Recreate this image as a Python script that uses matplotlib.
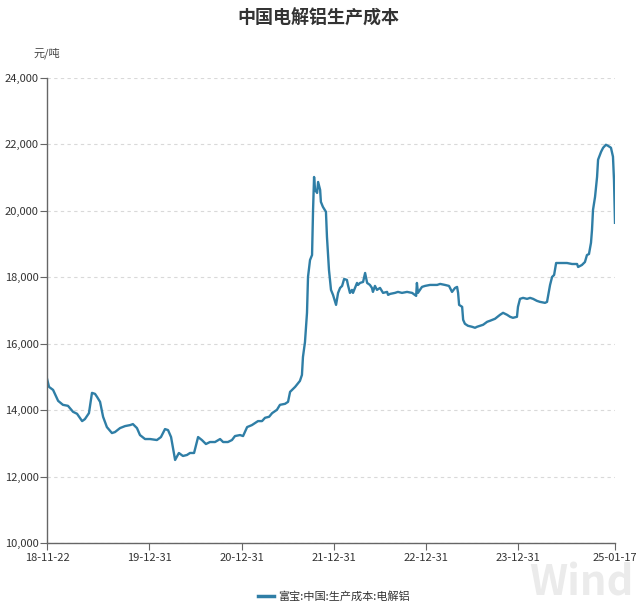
import matplotlib
matplotlib.use("Agg")
import matplotlib.pyplot as plt
import pandas as pd

plt.rcParams['font.family'] = ['Noto Sans CJK SC', 'DejaVu Sans']

title = "中国电解铝生产成本"
unit = "元/吨"
series_name = "富宝:中国:生产成本:电解铝"

dates = [
    "2018-11-22", "2018-11-30", "2018-12-16", "2019-01-05", "2019-01-24", "2019-02-13",
    "2019-03-05", "2019-03-21", "2019-04-10", "2019-04-21", "2019-05-07", "2019-05-19",
    "2019-05-31", "2019-06-08", "2019-06-20", "2019-07-02", "2019-07-17", "2019-08-06",
    "2019-08-18", "2019-09-07", "2019-09-27", "2019-10-17", "2019-10-28", "2019-11-13",
    "2019-11-25", "2019-12-15", "2020-01-04", "2020-01-31", "2020-02-16", "2020-03-03",
    "2020-03-15", "2020-03-27", "2020-04-12", "2020-04-27", "2020-05-13", "2020-05-29",
    "2020-06-10", "2020-06-26", "2020-07-12", "2020-07-27", "2020-08-12", "2020-08-28",
    "2020-09-17", "2020-10-07", "2020-10-19", "2020-11-07", "2020-11-23", "2020-12-05",
    "2020-12-25", "2021-01-06", "2021-01-22", "2021-02-10", "2021-02-22", "2021-03-06",
    "2021-03-22", "2021-04-03", "2021-04-19", "2021-05-01", "2021-05-20", "2021-06-01",
    "2021-06-21", "2021-07-03", "2021-07-11", "2021-07-31", "2021-08-19", "2021-08-27",
    "2021-08-31", "2021-09-08", "2021-09-16", "2021-09-20", "2021-09-28", "2021-10-06",
    "2021-10-10", "2021-10-14", "2021-10-18", "2021-10-26", "2021-10-30", "2021-11-07",
    "2021-11-10", "2021-11-18", "2021-11-30", "2021-12-04", "2021-12-12", "2021-12-20",
    "2021-12-28", "2022-01-09", "2022-01-17", "2022-01-25", "2022-02-02", "2022-02-10",
    "2022-02-21", "2022-02-25", "2022-03-05", "2022-03-13", "2022-03-17", "2022-04-02",
    "2022-04-06", "2022-04-14", "2022-04-26", "2022-05-04", "2022-05-12", "2022-05-23",
    "2022-05-31", "2022-06-04", "2022-06-12", "2022-06-20", "2022-07-02", "2022-07-14",
    "2022-07-30", "2022-08-03", "2022-08-11", "2022-08-30", "2022-09-11", "2022-09-27",
    "2022-10-17", "2022-11-06", "2022-11-22", "2022-11-25", "2022-11-29", "2022-12-15",
    "2022-12-27", "2023-01-16", "2023-02-13", "2023-02-25", "2023-03-16", "2023-04-01",
    "2023-04-13", "2023-04-25", "2023-05-03", "2023-05-07", "2023-05-11", "2023-05-23",
    "2023-05-27", "2023-06-03", "2023-06-15", "2023-07-01", "2023-07-13", "2023-07-21",
    "2023-08-02", "2023-08-14", "2023-08-30", "2023-09-10", "2023-09-30", "2023-10-20",
    "2023-11-01", "2023-11-17", "2023-11-29", "2023-12-10", "2023-12-26", "2023-12-30",
    "2024-01-07", "2024-01-19", "2024-02-04", "2024-02-16", "2024-02-28", "2024-03-14",
    "2024-03-26", "2024-04-15", "2024-04-23", "2024-05-05", "2024-05-13", "2024-05-21",
    "2024-05-29", "2024-06-13", "2024-07-11", "2024-07-31", "2024-08-20", "2024-08-24",
    "2024-09-08", "2024-09-20", "2024-09-28", "2024-10-06", "2024-10-14", "2024-10-18",
    "2024-10-22", "2024-10-30", "2024-11-07", "2024-11-11", "2024-11-23", "2024-12-01",
    "2024-12-12", "2024-12-20", "2025-01-01", "2025-01-09", "2025-01-13", "2025-01-17",
]

values = [
    14950, 14700, 14610, 14280, 14160, 14130,
    13950, 13890, 13670, 13730, 13910, 14520,
    14490, 14400, 14250, 13800, 13490, 13310,
    13340, 13460, 13520, 13550, 13580, 13460,
    13250, 13130, 13130, 13100, 13190, 13430,
    13400, 13190, 12500, 12710, 12620, 12650,
    12710, 12710, 13190, 13100, 12980, 13040,
    13040, 13130, 13040, 13040, 13100, 13220,
    13250, 13220, 13490, 13550, 13610, 13670,
    13670, 13770, 13800, 13910, 14010, 14160,
    14190, 14250, 14550, 14700, 14880, 15060,
    15600, 16050, 16930, 18010, 18520, 18670,
    20030, 21020, 20630, 20540, 20870, 20630,
    20270, 20120, 19970, 19220, 18220, 17620,
    17470, 17170, 17530, 17680, 17740, 17950,
    17920, 17770, 17530, 17620, 17530, 17830,
    17770, 17830, 17860, 18130, 17830, 17770,
    17680, 17560, 17740, 17620, 17680, 17530,
    17560, 17470, 17500, 17530, 17560, 17530,
    17560, 17530, 17440, 17830, 17530, 17710,
    17740, 17770, 17770, 17800, 17770, 17740,
    17560, 17680, 17710, 17530, 17170, 17110,
    16720, 16600, 16540, 16510, 16480, 16510,
    16540, 16570, 16660, 16690, 16750, 16870,
    16930, 16870, 16810, 16780, 16810, 17110,
    17350, 17380, 17350, 17380, 17350, 17290,
    17260, 17230, 17260, 17770, 18010, 18070,
    18430, 18430, 18430, 18400, 18400, 18310,
    18370, 18460, 18670, 18700, 19040, 19430,
    20030, 20420, 21020, 21540, 21780, 21900,
    21990, 21960, 21900, 21630, 20930, 19640,
]

tick_dates = ["2018-11-22", "2019-12-31", "2020-12-31", "2021-12-31",
              "2022-12-31", "2023-12-31", "2025-01-17"]
tick_labels = ["18-11-22", "19-12-31", "20-12-31", "21-12-31",
               "22-12-31", "23-12-31", "25-01-17"]
y_ticks = [10000, 12000, 14000, 16000, 18000, 20000, 22000, 24000]

df = pd.DataFrame({"date": pd.to_datetime(dates), "value": values})

fig = plt.figure(figsize=(6.36, 6.04), dpi=100)

# watermark (behind everything)
fig.text(634/636, 1-584/604, "Wind", ha="right", va="center",
         fontsize=30, fontweight="bold", color="#ebebeb", zorder=0)

ax = fig.add_axes([47/636, 1-543/604, (615-47)/636, (543-78)/604])
ax.patch.set_alpha(0)

line_color = "#2f7ea6"
ax.plot(df["date"], df["value"], color=line_color, lw=1.7, solid_joinstyle="round")

ax.set_xlim(pd.Timestamp("2018-11-22"), pd.Timestamp("2025-01-17"))
ax.set_ylim(10000, 24000)
ax.set_yticks(y_ticks)
ax.set_yticklabels([f"{v:,}" for v in y_ticks])
ax.set_xticks(pd.to_datetime(tick_dates))
ax.set_xticklabels(tick_labels)

for s in ["top", "right"]:
    ax.spines[s].set_visible(False)
for s in ["left", "bottom"]:
    ax.spines[s].set_color("#666666")
    ax.spines[s].set_linewidth(1.0)

ax.tick_params(axis="both", colors="#666666", labelcolor="#333333",
               labelsize=8, length=5, width=0.8, direction="out")
ax.tick_params(axis="y", pad=1)
ax.tick_params(axis="x", pad=2)

ax.grid(axis="y", color="#d9d9d9", linestyle=(0, (3, 3)), linewidth=0.8)
ax.set_axisbelow(True)

fig.text(318/636, 1-18/604, title, ha="center", va="center",
         fontsize=13, fontweight="bold", color="#333333")
fig.text(47/636, 1-53/604, unit, ha="center", va="center",
         fontsize=8, color="#444444")

# legend
fig.lines.append(plt.Line2D([258/636, 274/636], [1-596/604, 1-596/604],
                            transform=fig.transFigure, color=line_color, lw=2.5))
fig.text(278/636, 1-596/604, series_name, ha="left", va="center",
         fontsize=8, color="#333333")

fig.savefig("out.png", dpi=100)
